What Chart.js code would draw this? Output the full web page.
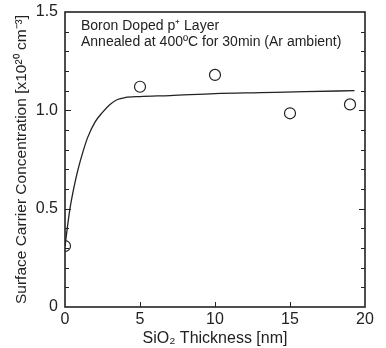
<!DOCTYPE html>
<html>
<head>
<meta charset="utf-8">
<script src="https://cdn.jsdelivr.net/npm/chart.js@4.4.0/dist/chart.umd.min.js"></script>
<style>
html,body{margin:0;padding:0;background:#fff;}
#wrap{width:386px;height:348px;position:relative;}
</style>
</head>
<body>
<div id="wrap"><canvas id="Chart"></canvas></div>
<script>
// measured points
var thickness=[0,5,10,15,19];
var concentration=[0.31,1.12,1.18,0.985,1.03];
// fitted curve
var fitX=[0,0.15,0.33,0.6,0.87,1.2,1.5,2.0,2.5,3.0,3.5,4.0,5.0,7.0,10.0,13.0,16.0,19.3];
var fitY=[0.31,0.40,0.50,0.61,0.70,0.79,0.86,0.94,0.99,1.03,1.055,1.065,1.07,1.075,1.085,1.09,1.095,1.10];
var xTicks=[0,5,10,15,20];
var yTicks=[0,0.5,1.0,1.5];
var note1="Boron Doped p\u207A Layer";
var note2="Annealed at 400\u00BAC for 30min (Ar ambient)";

var FONT="'Liberation Sans', Arial, sans-serif";

function pts(xs,ys)
{
    let out=[];
    for(let i=0;i<xs.length;i++) out.push({x:xs[i],y:ys[i]});
    return out;
}

// frame, inward ticks, notes
const framePlugin={
    id:"frame",
    afterDraw(chart){
        const c=chart.ctx, a=chart.chartArea;
        const xs=chart.scales.x, ys=chart.scales.y;
        c.save();
        c.strokeStyle="#222";
        c.lineWidth=1.6;
        c.strokeRect(a.left,a.top,a.right-a.left,a.bottom-a.top);
        c.lineWidth=1;
        for(let v=0.1;v<1.5;v+=0.1){
            let y=Math.round(ys.getPixelForValue(v))+0.5;
            let len=(Math.abs(v*2-Math.round(v*2))<1e-6)?6:4;
            c.beginPath();
            c.moveTo(a.left,y);c.lineTo(a.left+len,y);
            c.moveTo(a.right,y);c.lineTo(a.right-len,y);
            c.stroke();
        }
        for(let i=1;i<xTicks.length-1;i++){
            let x=Math.round(xs.getPixelForValue(xTicks[i]))+0.5;
            c.beginPath();
            c.moveTo(x,a.bottom);c.lineTo(x,a.bottom-5);
            c.stroke();
        }
        c.fillStyle="#222";
        c.font="14px "+FONT;
        c.textBaseline="alphabetic";
        c.fillText(note1,a.left+16,a.top+18);
        c.fillText(note2,a.left+16,a.top+34);
        c.restore();
    }
};

const ctx=document.getElementById("Chart");
new Chart(ctx,{
    type:"scatter",
    data:{
        datasets:[
            {
                label:"fit",
                data:pts(fitX,fitY),
                showLine:true,
                borderColor:"#222",
                borderWidth:1.3,
                pointRadius:0,
                cubicInterpolationMode:"monotone",
                fill:false
            },
            {
                label:"measured",
                data:pts(thickness,concentration),
                showLine:false,
                pointRadius:5.5,
                pointBorderWidth:1.2,
                borderColor:"#222",
                backgroundColor:"rgba(255,255,255,0)"
            }
        ]
    },
    options:{
        responsive:true,
        maintainAspectRatio:false,
        animation:false,
        layout:{padding:{top:12,right:21,left:12,bottom:0}},
        plugins:{legend:{display:false},tooltip:{enabled:false}},
        scales:{
            x:{
                type:"linear",
                min:0,max:20,
                afterBuildTicks(s){s.ticks=xTicks.map(v=>({value:v}));},
                afterFit(s){s.height=41;s.paddingLeft=0;s.paddingRight=0;},
                grid:{display:false,drawTicks:false,tickLength:0},
                border:{display:false},
                ticks:{color:"#222",font:{family:FONT,size:16},padding:3,maxRotation:0},
                title:{display:true,text:"SiO\u2082 Thickness [nm]",color:"#222",font:{family:FONT,size:16},padding:{top:0,bottom:0}}
            },
            y:{
                type:"linear",
                min:0,max:1.5,
                afterBuildTicks(s){s.ticks=yTicks.map(v=>({value:v}));},
                afterFit(s){s.width=53;s.paddingTop=0;s.paddingBottom=0;},
                grid:{display:false,drawTicks:false,tickLength:0},
                border:{display:false},
                ticks:{color:"#222",font:{family:FONT,size:16},padding:7,
                    callback:v=>v===0?"0":v.toFixed(1)},
                title:{display:true,text:"Surface Carrier Concentration [x10\u00B2\u2070 cm\u207B\u00B3]",color:"#222",font:{family:FONT,size:15.5},padding:{top:0,bottom:0}}
            }
        }
    },
    plugins:[framePlugin]
});
</script>
</body>
</html>
